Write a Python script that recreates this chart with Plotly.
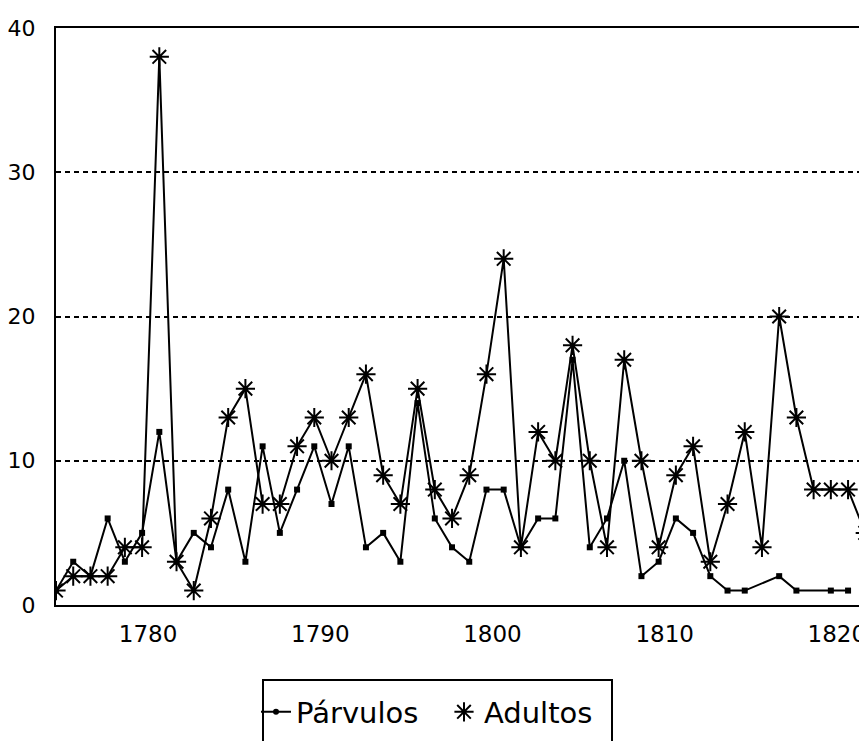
import plotly.graph_objects as go

years = list(range(1775, 1823))
parvulos = [1, 3, 2, 6, 3, 5, 12, 3, 5, 4,
            8, 3, 11, 5, 8, 11, 7, 11, 4, 5,
            3, 14, 6, 4, 3, 8, 8, 4, 6, 6,
            17, 4, 6, 10, 2, 3, 6, 5, 2, 1,
            1, None, 2, 1, None, 1, 1, None]
adultos = [1, 2, 2, 2, 4, 4, 38, 3, 1, 6,
           13, 15, 7, 7, 11, 13, 10, 13, 16, 9,
           7, 15, 8, 6, 9, 16, 24, 4, 12, 10,
           18, 10, 4, 17, 10, 4, 9, 11, 3, 7,
           12, 4, 20, 13, 8, 8, 8, 5]
x_ticks = [1780, 1790, 1800, 1810, 1820]
y_ticks = [0, 10, 20, 30, 40]

FONT = "DejaVu Sans"

fig = go.Figure()
fig.add_trace(go.Scatter(
    x=years, y=parvulos, mode="lines+markers", name="Párvulos",
    connectgaps=True, showlegend=False,
    line=dict(color="black", width=2),
    marker=dict(symbol="square", size=6, color="black"),
))
fig.add_trace(go.Scatter(
    x=years, y=adultos, mode="lines+markers", name="Adultos",
    showlegend=False,
    line=dict(color="black", width=2),
    marker=dict(symbol="asterisk-open", size=16, color="black",
                line=dict(color="black", width=2)),
))
# legend entries
fig.add_trace(go.Scatter(
    x=[None], y=[None], mode="lines+markers", name="Párvulos",
    line=dict(color="black", width=2), legend="legend",
    marker=dict(symbol="circle", size=6, color="black"),
))
fig.add_trace(go.Scatter(
    x=[None], y=[None], mode="markers", name="Adultos", legend="legend2",
    marker=dict(symbol="asterisk-open", size=18, color="black",
                line=dict(color="black", width=2)),
))

# page has an 8px body margin: figure coords = page coords - 8
OFF = 8
W, H = 867, 741
L, T, B, R = 56 - OFF, 28 - OFF, 605 - OFF, 867 - OFF
pw = R - L
ph = B - T

def px_x(p):
    return (p - OFF - L) / pw

def px_y(p):
    return (B - (p - OFF)) / ph

fig.add_shape(type="rect", xref="paper", yref="paper",
              x0=px_x(263), x1=px_x(612), y0=px_y(770), y1=px_y(680),
              line=dict(color="black", width=2), fillcolor="rgba(0,0,0,0)")

leg_common = dict(
    orientation="h", xanchor="left", yanchor="middle",
    font=dict(size=29, family=FONT, color="black"),
    bgcolor="rgba(0,0,0,0)", borderwidth=0, itemwidth=30,
)
fig.update_layout(
    width=W, height=H,
    margin=dict(l=L, r=W - R, t=T, b=H - B, autoexpand=False),
    paper_bgcolor="white", plot_bgcolor="white",
    font=dict(family=FONT, color="black"),
    showlegend=True,
    legend=dict(x=px_x(256), y=px_y(712), **leg_common),
    legend2=dict(x=px_x(444), y=px_y(712), **leg_common),
)
fig.update_xaxes(
    range=[1775, 1822.1], tickvals=x_ticks, ticktext=[str(v) for v in x_ticks],
    showgrid=False, zeroline=False, automargin=False,
    showline=True, linecolor="black", linewidth=2, mirror=True,
    ticks="outside", ticklen=7, tickcolor="rgba(0,0,0,0)",
    ticklabelshift=6,
    tickfont=dict(size=23, family=FONT, color="black"),
)
fig.update_yaxes(
    range=[0, 40], tickvals=y_ticks, ticktext=[str(v) for v in y_ticks],
    showgrid=True, gridcolor="black", gridwidth=1.5, griddash="5px,4px",
    zeroline=False, automargin=False,
    showline=True, linecolor="black", linewidth=2, mirror=False,
    ticks="outside", ticklen=14, tickcolor="rgba(0,0,0,0)",
    tickfont=dict(size=22, family=FONT, color="black"),
)

fig.write_html("out.html")
